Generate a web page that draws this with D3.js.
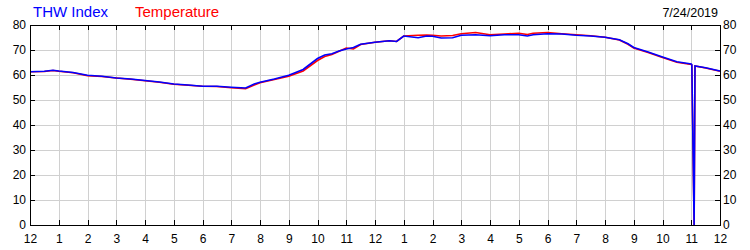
<!DOCTYPE html>
<html>
<head>
<meta charset="utf-8">
<title>THW Index / Temperature</title>
<script src="https://cdn.jsdelivr.net/npm/d3@7"></script>
<style>
  body { margin: 0; background: #fff; }
  svg { display: block; font-family: "Liberation Sans", Arial, sans-serif; }
  .axis path, .axis line { stroke: #000; }
  .axis text { fill: #000; font-size: 12px; }
</style>
</head>
<body>
<script>
// hours since midnight
var hours = [0, 0.5, 0.8, 1, 1.5, 2, 2.5, 3, 3.5, 4, 4.5, 5, 5.5, 6, 6.5, 7, 7.5, 7.8, 8, 8.5, 9, 9.5,
  10, 10.25, 10.5, 10.75, 11, 11.25, 11.5, 12, 12.5, 12.75, 13, 13.5, 13.8, 14, 14.3, 14.7, 15, 15.5,
  16, 16.5, 17, 17.3, 17.5, 18, 18.5, 19, 19.5, 20, 20.5, 20.8, 21, 21.5, 22, 22.5, 23, 23.02, 23.1,
  23.13, 23.5, 24];
var temperature = [61.3, 61.4, 61.8, 61.5, 60.9, 59.7, 59.4, 58.8, 58.3, 57.7, 57.1, 56.3, 55.9, 55.5, 55.4,
  54.9, 54.5, 56.0, 56.9, 58.2, 59.5, 61.6, 65.8, 67.4, 68.2, 69.5, 70.8, 70.4, 72.2, 73.1, 73.7, 73.4,
  75.6, 75.9, 76.0, 75.9, 75.6, 75.8, 76.5, 77.0, 76.1, 76.4, 76.7, 76.2, 76.7, 77.0, 76.5, 76.1, 75.7,
  75.1, 74.0, 72.3, 70.8, 69.0, 67.0, 65.1, 64.2, 64.0, 0, 63.6, 62.8, 61.5];
var thwIndex = [61.3, 61.5, 61.9, 61.6, 61.0, 59.9, 59.5, 58.8, 58.4, 57.8, 57.2, 56.4, 56.0, 55.5, 55.5,
  55.1, 54.8, 56.4, 57.1, 58.4, 59.9, 62.2, 66.6, 68.0, 68.5, 69.6, 70.4, 71.0, 72.3, 73.1, 73.7, 73.4,
  75.6, 74.9, 75.6, 75.5, 74.8, 74.9, 75.9, 76.1, 75.7, 76.1, 76.1, 75.6, 76.1, 76.5, 76.4, 75.9, 75.6,
  75.1, 74.1, 72.5, 71.0, 69.2, 67.2, 65.3, 64.4, 64.2, 0, 63.6, 62.9, 61.6];
var hourTicks = d3.range(0, 25);
var hourLabels = ["12", "1", "2", "3", "4", "5", "6", "7", "8", "9", "10", "11",
  "12", "1", "2", "3", "4", "5", "6", "7", "8", "9", "10", "11", "12"];
var valueTicks = [0, 10, 20, 30, 40, 50, 60, 70, 80];
var dateLabel = "7/24/2019";

var W = 750, H = 250;
var mLeft = 30, mRight = 720, mTop = 25, mBottom = 225;

var svg = d3.select("body").append("svg").attr("width", W).attr("height", H);

var x = d3.scaleLinear().domain([0, 24]).range([mLeft, mRight]);
var y = d3.scaleLinear().domain([0, 80]).range([mBottom, mTop]);

// grid
var grid = svg.append("g").attr("stroke", "#d0d0d0").attr("stroke-width", 1).attr("shape-rendering", "crispEdges");
grid.selectAll(".gx").data(hourTicks.slice(1, -1)).enter().append("line")
  .attr("x1", d => Math.round(x(d)) + 0.5).attr("x2", d => Math.round(x(d)) + 0.5)
  .attr("y1", mTop).attr("y2", mBottom);
grid.selectAll(".gy").data(valueTicks.slice(1, -1)).enter().append("line")
  .attr("y1", d => Math.round(y(d)) + 0.5).attr("y2", d => Math.round(y(d)) + 0.5)
  .attr("x1", mLeft).attr("x2", mRight);

// lines: temperature under, THW on top
var line = d3.line().x(d => x(d[0])).y(d => y(d[1]));
svg.append("path").datum(hours.map((h, i) => [h, temperature[i]]))
  .attr("fill", "none").attr("stroke", "#ff0000").attr("stroke-width", 1.6).attr("d", line);
svg.append("path").datum(hours.map((h, i) => [h, thwIndex[i]]))
  .attr("fill", "none").attr("stroke", "#0000ff").attr("stroke-width", 1.6).attr("d", line);

// axes
svg.append("g").attr("class", "axis").attr("transform", "translate(0," + mBottom + ")")
  .call(d3.axisBottom(x).tickValues(hourTicks).tickFormat((d, i) => hourLabels[i])
    .tickSizeInner(-5).tickSizeOuter(0).tickPadding(9));
svg.append("g").attr("class", "axis").attr("transform", "translate(0," + mTop + ")")
  .call(d3.axisTop(x).tickValues(hourTicks).tickFormat("")
    .tickSizeInner(-5).tickSizeOuter(0));
svg.append("g").attr("class", "axis").attr("transform", "translate(" + mLeft + ",0)")
  .call(d3.axisLeft(y).tickValues(valueTicks).tickSizeInner(-5).tickSizeOuter(0).tickPadding(4));
svg.append("g").attr("class", "axis").attr("transform", "translate(" + mRight + ",0)")
  .call(d3.axisRight(y).tickValues(valueTicks).tickSizeInner(-5).tickSizeOuter(0).tickPadding(3));
svg.selectAll(".axis path, .axis line").attr("shape-rendering", "crispEdges");

// legend + date
svg.append("text").attr("x", 33).attr("y", 17).attr("font-size", 15).attr("fill", "#0000ff").text("THW Index");
svg.append("text").attr("x", 135).attr("y", 17).attr("font-size", 15).attr("fill", "#ff0000").text("Temperature");
svg.append("text").attr("x", 718).attr("y", 17).attr("font-size", 12.5).attr("text-anchor", "end")
  .attr("fill", "#000").text(dateLabel);
</script>
</body>
</html>
